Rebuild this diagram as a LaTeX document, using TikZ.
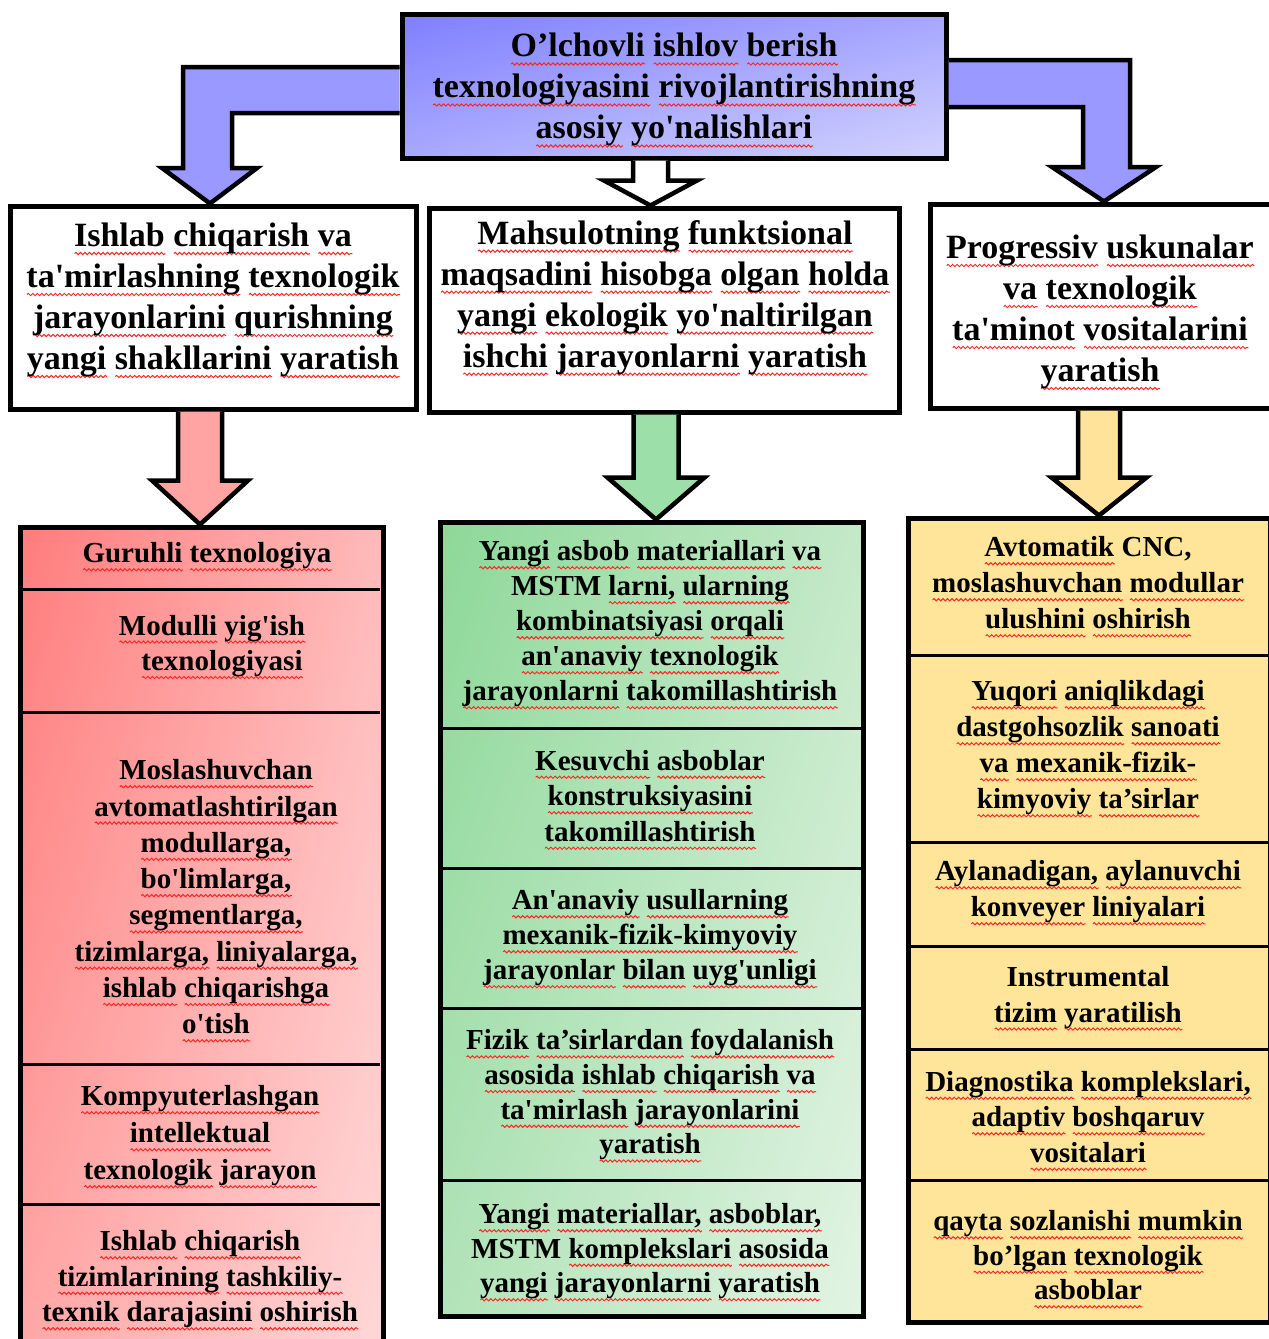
\documentclass[tikz,border=0pt]{standalone}
\usepackage{fontspec}
\setmainfont{Liberation Serif}[Ligatures=TeXOff]
\usetikzlibrary{calc,shadings,decorations.pathmorphing}
\newsavebox\wbox
\newcommand\rw[1]{\sbox\wbox{#1}\leavevmode\rlap{\tikz[x=1pt,y=1pt,baseline=0pt]\draw[red!85!white, line width=1pt, decorate, decoration={snake, amplitude=1.1pt, segment length=4.5pt}] (0pt,-7pt) -- (\the\wd\wbox,-7pt);}\usebox\wbox}
\def\W#1{\Wi#1 \Wend}
\def\Wi#1 #2\Wend{\rw{#1}\ifx\relax#2\relax\else\ \Wi#2\Wend\fi}
\definecolor{blueTL}{HTML}{7F7FFF}
\definecolor{blueTR}{HTML}{A6A6FF}
\definecolor{blueBL}{HTML}{A8A8FF}
\definecolor{blueBR}{HTML}{D2D2FF}
\definecolor{redTL}{HTML}{FF7C7C}
\definecolor{redTR}{HTML}{FFBABA}
\definecolor{redBL}{HTML}{FFA8A8}
\definecolor{redBR}{HTML}{FFD8D8}
\definecolor{grnTL}{HTML}{8CD898}
\definecolor{grnTR}{HTML}{C4E9C8}
\definecolor{grnBL}{HTML}{B2E3B8}
\definecolor{grnBR}{HTML}{E2F4E4}
\definecolor{yelcol}{HTML}{FFE599}
\definecolor{arrowblue}{HTML}{9999FF}
\definecolor{arrowred}{HTML}{FFA3A3}
\definecolor{arrowgreen}{HTML}{9CDFA8}
\definecolor{arrowyellow}{HTML}{FFE39A}
\newcommand\downblock[7]{%
  \coordinate (ax) at (#3,0);
  \path[blockarrow, fill=#7]
    ($(#1.south -| ax)+(-#4,2.5)$) --
    ($(#2.north -| ax)+(-#4,{-#6-2.5})$) --
    ($(#2.north -| ax)+(-#5,{-#6-2.5})$) --
    ($(#2.north -| ax)+(0,-2.5)$) --
    ($(#2.north -| ax)+(#5,{-#6-2.5})$) --
    ($(#2.north -| ax)+(#4,{-#6-2.5})$) --
    ($(#1.south -| ax)+(#4,2.5)$);
}
\begin{document}
\begin{tikzpicture}[x=1pt,y=-1pt,
  bigtxt/.style={font=\bfseries\fontsize{34}{41}\selectfont, align=center, inner sep=0pt, yshift=-4pt},
  smalltxt/.style={font=\bfseries\fontsize{29}{35.5}\selectfont, align=center, inner sep=0pt, yshift=-4pt},
  boxnode/.style={draw=black, line width=5pt, anchor=north west, inner sep=0pt, outer sep=0pt, rectangle},
  sepline/.style={draw=black, line width=3pt},
  blockarrow/.style={draw=black, line width=4.5pt, line join=miter, miter limit=10},
]
\useasboundingbox (0,0) rectangle (1269,1339);

% top box
\node[boxnode, minimum width=544pt, minimum height=144pt,
      upper left=blueTL, upper right=blueTR, lower left=blueBL, lower right=blueBR] (top) at (402,14) {};
\node[bigtxt] (topt) at (674,86.5)
  {\W{O’lchovli ishlov berish}\\ \W{texnologiyasini rivojlantirishning}\\ \W{asosiy yo'nalishlari}};

% white boxes
\node[boxnode, fill=white, minimum width=406pt, minimum height=203pt] (w1) at (10,206) {};
\node[bigtxt] (w1t) at (213,296.5)
  {\W{Ishlab chiqarish va}\\ \W{ta'mirlashning texnologik}\\ \W{jarayonlarini qurishning}\\ \W{yangi shakllarini yaratish}};
\node[boxnode, fill=white, minimum width=470pt, minimum height=204pt] (w2) at (429,208) {};
\node[bigtxt] (w2t) at (665,294)
  {\W{Mahsulotning funktsional}\\ \W{maqsadini hisobga olgan holda}\\ \W{yangi ekologik yo'naltirilgan}\\ \W{ishchi jarayonlarni yaratish}};
\node[boxnode, fill=white, minimum width=345pt, minimum height=204pt] (w3) at (930,204) {};
\node[bigtxt] (w3t) at (1100,308.5)
  {\W{Progressiv uskunalar}\\ \W{va texnologik}\\ \W{ta'minot vositalarini}\\ \W{yaratish}};

% columns
\node[boxnode, minimum width=363pt, minimum height=840pt,
      upper left=redTL, upper right=redTR, lower left=redBL, lower right=redBR] (rc) at (20,527) {};
\node[boxnode, minimum width=423pt, minimum height=794pt,
      upper left=grnTL, upper right=grnTR, lower left=grnBL, lower right=grnBR] (gc) at (440,522) {};
\node[boxnode, minimum width=362pt, minimum height=804pt, fill=yelcol] (yc) at (908,518) {};

% separators
\foreach \yy in {589,712,1064,1204} \draw[sepline] (20,\yy) -- (380,\yy);
\foreach \yy in {728,868,1008,1180} \draw[sepline] (440,\yy) -- (863,\yy);
\foreach \yy in {655,842,946,1049,1180} \draw[sepline] (908,\yy) -- (1270,\yy);

% red texts
\node[smalltxt] (r1) at (207,553) {\W{Guruhli texnologiya}};
\node[smalltxt] (r2) at (212,643) {\W{Modulli yig'ish}\\ \hspace*{20pt}\W{texnologiyasi}};
\node[smalltxt, font=\bfseries\fontsize{29}{36.3}\selectfont] (r3) at (216,897) {\W{Moslashuvchan}\\ \W{avtomatlashtirilgan}\\ \W{modullarga,}\\ \W{bo'limlarga,}\\ \W{segmentlarga,}\\ \W{tizimlarga, liniyalarga,}\\ \W{ishlab chiqarishga}\\ \W{o'tish}};
\node[smalltxt, font=\bfseries\fontsize{29}{37}\selectfont] (r4) at (200,1133) {\W{Kompyuterlashgan}\\ \W{intellektual}\\ \W{texnologik jarayon}};
\node[smalltxt] (r5) at (200,1276.5) {\W{Ishlab chiqarish}\\ \W{tizimlarining tashkiliy-}\\ \W{texnik darajasini oshirish}};

% green texts
\node[smalltxt, font=\bfseries\fontsize{29}{35}\selectfont] (g1) at (650,621) {\W{Yangi asbob materiallari va}\\ MSTM \W{larni, ularning}\\ \W{kombinatsiyasi orqali}\\ \W{an'anaviy texnologik}\\ \W{jarayonlarni takomillashtirish}};
\node[smalltxt] (g2) at (650,796) {\W{Kesuvchi asboblar}\\ \W{konstruksiyasini}\\ \W{takomillashtirish}};
\node[smalltxt, font=\bfseries\fontsize{29}{35}\selectfont] (g3) at (650,935) {\W{An'anaviy usullarning}\\ \W{mexanik-fizik-kimyoviy}\\ \W{jarayonlar bilan uyg'unligi}};
\node[smalltxt, font=\bfseries\fontsize{29}{34.7}\selectfont] (g4) at (650,1092) {\W{Fizik ta’sirlardan foydalanish}\\ \W{asosida ishlab chiqarish va}\\ \W{ta'mirlash jarayonlarini}\\ \W{yaratish}};
\node[smalltxt, font=\bfseries\fontsize{29}{34.5}\selectfont] (g5) at (650,1248.5) {\W{Yangi materiallar, asboblar,}\\ MSTM \W{komplekslari asosida}\\ \W{yangi jarayonlarni yaratish}};

% yellow texts
\node[smalltxt, font=\bfseries\fontsize{29}{36}\selectfont] (y1) at (1088,583) {\W{Avtomatik} CNC,\\ \W{moslashuvchan modullar}\\ \W{ulushini oshirish}};
\node[smalltxt, font=\bfseries\fontsize{29}{36}\selectfont] (y2) at (1088,745) {\W{Yuqori aniqlikdagi}\\ \W{dastgohsozlik sanoati}\\ \W{va mexanik-fizik-}\\ \W{kimyoviy ta’sirlar}};
\node[smalltxt, font=\bfseries\fontsize{29}{36}\selectfont] (y3) at (1088,889) {\W{Aylanadigan, aylanuvchi}\\ \W{konveyer liniyalari}};
\node[smalltxt] (y4) at (1088,994.5) {Instrumental\\ \W{tizim yaratilish}};
\node[smalltxt] (y5) at (1088,1117) {\W{Diagnostika komplekslari,}\\ \W{adaptiv boshqaruv}\\ \W{vositalari}};
\node[smalltxt, font=\bfseries\fontsize{29}{34.5}\selectfont] (y6) at (1088,1255.5) {\W{qayta sozlanishi mumkin}\\ \W{bo’lgan texnologik}\\ \W{asboblar}};

% bent arrows from the top box
\path[blockarrow, fill=arrowblue]
  ($(top.north west)+(-2.5,53)$) -- (183,67) -- (183,168) -- (162,168) --
  ($(w1.north)+(-3,-2.5)$) -- (257,168) -- (232,168) -- (232,113) --
  ($(top.north west)+(-2.5,99)$);
\path[blockarrow, fill=arrowblue]
  ($(top.north east)+(2.5,46)$) -- (1130,60) -- (1130,167) -- (1156,167) --
  ($(w3.north)+(1.5,-2.5)$) -- (1052,167) -- (1083,167) -- (1083,107) --
  ($(top.north east)+(2.5,93)$);

% straight down arrows
\downblock{top}{w2}{650.5}{17.5}{46.5}{25}{white}
\downblock{w1}{rc}{200}{22}{48}{44}{arrowred}
\downblock{w2}{gc}{656}{22.5}{48.5}{42}{arrowgreen}
\downblock{w3}{yc}{1099}{21}{47.5}{38}{arrowyellow}
\end{tikzpicture}
\end{document}
